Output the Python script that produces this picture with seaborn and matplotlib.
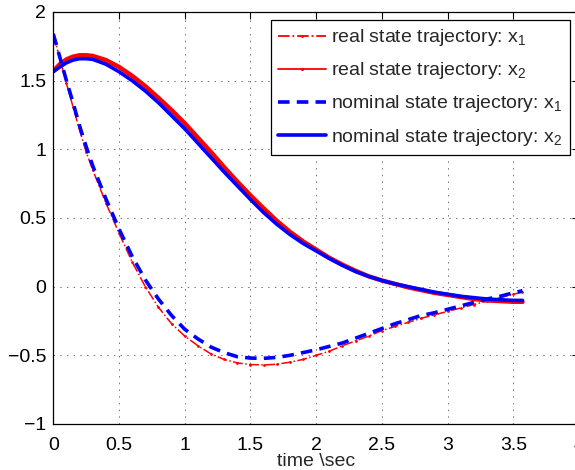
import numpy as np
import pandas as pd
import matplotlib
matplotlib.use("Agg")
import matplotlib.pyplot as plt
import seaborn as sns

# sample times (s)
time_s = [0, 0.05, 0.1, 0.15, 0.2, 0.25, 0.3, 0.4, 0.5, 0.6, 0.7, 0.8, 0.9,
          1.0, 1.1, 1.2, 1.3, 1.4, 1.5, 1.6, 1.7, 1.8, 1.9, 2.0, 2.1, 2.2,
          2.3, 2.4, 2.5, 2.6, 2.7, 2.8, 2.9, 3.0, 3.1, 3.2, 3.3, 3.4, 3.5, 3.57]

real_x1 = [1.84, 1.66, 1.48, 1.31, 1.14, 0.98, 0.85, 0.61, 0.39, 0.18, 0.00,
           -0.15, -0.27, -0.36, -0.43, -0.49, -0.53, -0.555, -0.567, -0.57,
           -0.565, -0.55, -0.53, -0.50, -0.47, -0.43, -0.395, -0.36, -0.32,
           -0.29, -0.26, -0.23, -0.205, -0.18, -0.155, -0.13, -0.105, -0.08,
           -0.055, -0.04]

real_x2 = [1.57, 1.62, 1.655, 1.675, 1.685, 1.685, 1.68, 1.65, 1.60, 1.535,
           1.46, 1.375, 1.285, 1.19, 1.085, 0.98, 0.87, 0.765, 0.665, 0.57,
           0.48, 0.40, 0.33, 0.27, 0.21, 0.16, 0.115, 0.075, 0.045, 0.02,
           -0.005, -0.025, -0.045, -0.06, -0.075, -0.09, -0.10, -0.105, -0.11,
           -0.11]

nominal_x1 = [1.84, 1.67, 1.50, 1.34, 1.17, 1.02, 0.88, 0.64, 0.42, 0.22, 0.05,
              -0.09, -0.21, -0.31, -0.38, -0.44, -0.48, -0.51, -0.52, -0.522,
              -0.515, -0.50, -0.48, -0.46, -0.435, -0.41, -0.375, -0.34, -0.305,
              -0.27, -0.24, -0.21, -0.19, -0.165, -0.14, -0.115, -0.09, -0.07,
              -0.045, -0.03]

nominal_x2 = [1.565, 1.60, 1.63, 1.65, 1.66, 1.66, 1.655, 1.62, 1.565, 1.50,
              1.425, 1.34, 1.245, 1.15, 1.045, 0.94, 0.835, 0.735, 0.635, 0.54,
              0.455, 0.38, 0.315, 0.26, 0.205, 0.155, 0.11, 0.075, 0.045, 0.02,
              0.0, -0.02, -0.04, -0.055, -0.07, -0.08, -0.09, -0.095, -0.10,
              -0.10]

series_labels = ["real state trajectory: x$_1$",
                 "real state trajectory: x$_2$",
                 "nominal state trajectory: x$_1$",
                 "nominal state trajectory: x$_2$"]

x_ticks = [0, 0.5, 1, 1.5, 2, 2.5, 3, 3.5, 4]
x_tick_labels = ["0", "0.5", "1", "1.5", "2", "2.5", "3", "3.5", "4"]
y_ticks = [-1, -0.5, 0, 0.5, 1, 1.5, 2]
y_tick_labels = ["\u22121", "\u22120.5", "0", "0.5", "1", "1.5", "2"]

sns.set_theme(style="white")
plt.rcParams["font.family"] = ["Liberation Sans", "DejaVu Sans"]
plt.rcParams["mathtext.fontset"] = "custom"
plt.rcParams["mathtext.rm"] = "Liberation Sans"
plt.rcParams["mathtext.default"] = "regular"
plt.rcParams["font.size"] = 14

FS = 14

df = pd.DataFrame({"t": time_s, "rx1": real_x1, "rx2": real_x2,
                   "nx1": nominal_x1, "nx2": nominal_x2})

fig = plt.figure(figsize=(5.75, 4.70), dpi=100)
ax = fig.add_axes([53.3 / 575, 46 / 470, (579 - 53.3) / 575, (424 - 12) / 470])

sns.lineplot(data=df, x="t", y="rx1", ax=ax, color="#ff0000", linestyle="-.",
             linewidth=1.1, marker=".", markersize=4, markeredgewidth=0,
             label=series_labels[0], sort=False, errorbar=None)
sns.lineplot(data=df, x="t", y="rx2", ax=ax, color="#ff0000", linestyle="-",
             linewidth=3.2, marker=".", markersize=4.5, markeredgewidth=0,
             label=series_labels[1], sort=False, errorbar=None)
sns.lineplot(data=df, x="t", y="nx1", ax=ax, color="#0000ff",
             linewidth=2.6, dashes=False, linestyle=(0, (3.2, 2.0)),
             label=series_labels[2], sort=False, errorbar=None)
sns.lineplot(data=df, x="t", y="nx2", ax=ax, color="#0000ff", linestyle="-",
             linewidth=2.6, label=series_labels[3], sort=False, errorbar=None)

ax.set_xlim(0, 4)
ax.set_ylim(-1, 2)
ax.set_xticks(x_ticks)
ax.set_xticklabels(x_tick_labels)
ax.set_yticks(y_ticks)
ax.set_yticklabels(y_tick_labels)
ax.set_xlabel("time \\sec", fontsize=FS, labelpad=-1)
ax.set_ylabel("")

ax.grid(True, color="black", alpha=0.55, linewidth=0.7,
        linestyle=(0, (1.5, 5.4)))
ax.tick_params(direction="in", length=5, width=0.8, top=True, right=True,
               colors="black", labelsize=FS)
ax.tick_params(axis="x", pad=9.5)
ax.tick_params(axis="y", pad=5)
for sp in ax.spines.values():
    sp.set_color("black")
    sp.set_linewidth(0.9)

leg = ax.legend(loc="upper right", bbox_to_anchor=(1 - 9 / 525.7, 1 - 8 / 412),
                borderaxespad=0, frameon=True, fancybox=False, framealpha=1,
                edgecolor="black", fontsize=FS, handlelength=2.45,
                labelspacing=0.62, borderpad=0.38, handletextpad=0.3)
leg.get_frame().set_linewidth(0.9)
for line in leg.get_lines()[:2]:
    line.set_linewidth(1.3)

fig.savefig("out.png", dpi=100)
